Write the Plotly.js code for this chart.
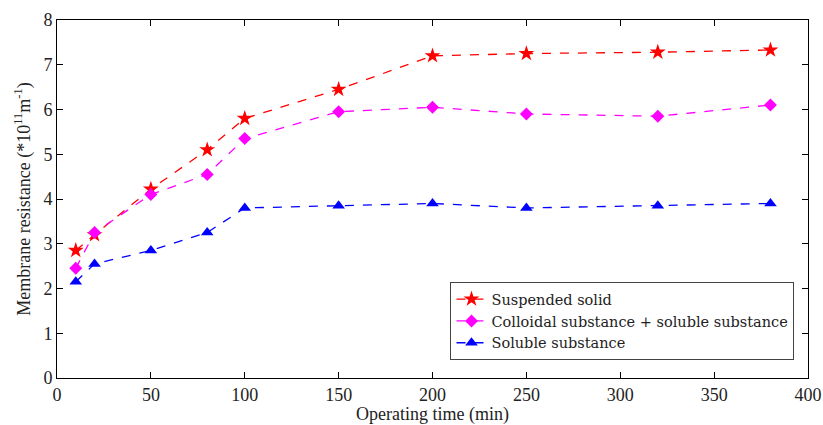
<!DOCTYPE html>
<html><head><meta charset="utf-8">
<script src="https://cdn.plot.ly/plotly-3.0.1.min.js"></script>
<style>html,body{margin:0;padding:0;background:#fff}#chart{width:823px;height:425px}</style>
</head><body><div id="chart"></div>
<script>
const time = [10, 20, 50, 80, 100, 150, 200, 250, 320, 380];
const suspendedSolid = [2.85, 3.2, 4.22, 5.1, 5.8, 6.45, 7.2, 7.25, 7.28, 7.33];
const colloidalSoluble = [2.45, 3.25, 4.1, 4.55, 5.35, 5.95, 6.05, 5.9, 5.85, 6.1];
const solubleSubstance = [2.15, 2.55, 2.85, 3.25, 3.8, 3.85, 3.9, 3.8, 3.85, 3.9];
const seriesNames = ['Suspended solid', 'Colloidal substance + soluble substance', 'Soluble substance'];

const font = {family: 'Liberation Serif, serif', size: 18, color: '#222'};
const legendFont = {family: 'DejaVu Serif, serif', size: 14.5, color: '#222'};
function tr(y, name, color, symbol, size) {
  return {x: time, y: y, name: name, type: 'scatter', mode: 'lines+markers',
    line: {color: color, dash: 'dash', width: 1.3},
    marker: {symbol: symbol, size: size, color: color}};
}
const data = [
  tr(suspendedSolid, seriesNames[0], '#ff0000', 'star', 12),
  tr(colloidalSoluble, seriesNames[1], '#ff00ff', 'diamond', 10),
  tr(solubleSubstance, seriesNames[2], '#0000ff', 'triangle-up', 11)
];
const axisCommon = {showgrid: false, zeroline: false, showline: true, mirror: 'ticks',
  linecolor: '#000', linewidth: 1, ticks: 'inside', ticklen: 6, tickcolor: '#000', tickfont: font};
const layout = {
  width: 823, height: 425,
  margin: {l: 57, r: 15, t: 20, b: 47},
  paper_bgcolor: '#fff', plot_bgcolor: '#fff',
  font: font,
  showlegend: true,
  legend: {x: 0.982, y: 0.05, xanchor: 'right', yanchor: 'bottom', bgcolor: '#fff',
    bordercolor: '#444', borderwidth: 1, font: legendFont, tracegroupgap: 0, itemwidth: 30},
  xaxis: Object.assign({}, axisCommon, {range: [0, 400], dtick: 50,
    title: {text: 'Operating time (min)', font: font, standoff: 4}}),
  yaxis: Object.assign({}, axisCommon, {range: [0, 8], dtick: 1,
    title: {text: 'Membrane resistance (*10<sup>11</sup>m<sup>-1</sup>)', font: font, standoff: 8}})
};
Plotly.newPlot('chart', data, layout, {displayModeBar: false, staticPlot: true});
</script></body></html>
